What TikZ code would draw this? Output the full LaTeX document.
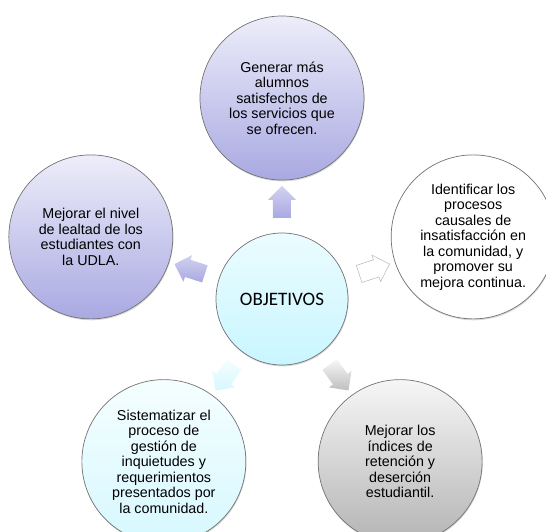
\documentclass[tikz,border=0pt]{standalone}
\usepackage{fontspec}
\setmainfont{Liberation Sans}
\newfontfamily\calibrifont{Carlito}
\usepackage{xcolor}
\usepackage{tikz}
\usetikzlibrary{calc,shadows}

\definecolor{lav}{HTML}{A9A9E2}
\definecolor{lavtop}{HTML}{EDEDFA}
\definecolor{aqua}{HTML}{C9F6FF}
\definecolor{aquatop}{HTML}{EBFCFF}
\definecolor{aqualight}{HTML}{D6F8FF}
\definecolor{aqualighttop}{HTML}{F5FEFF}
\definecolor{greybot}{HTML}{B4B4B4}
\definecolor{greytop}{HTML}{F6F6F6}

\tikzset{
  goal/.style={circle, draw=black!55, line width=0.7pt, minimum size=164pt,
    inner sep=0pt, align=center, font=\fontsize{14.3}{15.5}\selectfont,
    drop shadow={shadow xshift=0.6pt, shadow yshift=-1.4pt, opacity=0.3}},
  hub/.style={goal, minimum size=132pt, font=\calibrifont\fontsize{19}{22}\selectfont},
  pics/blockarrow/.style n args={3}{code={
    \path[top color=#1, bottom color=#2, draw=#3, line width=0.6pt, line join=round]
      (0,16) -- (14,2) -- (9,2) -- (9,-16) -- (-9,-16) -- (-9,2) -- (-14,2) -- cycle;
  }}
}

\begin{document}
\begin{tikzpicture}[x=1pt,y=1pt]
\clip (-282,-232) rectangle (264,299);

% Center
\node[hub, top color=aquatop, bottom color=aqua] (obj) at (0,0) {OBJETIVOS};

% Goals around the center
\node[goal, top color=lavtop, bottom color=lav] (g1) at (90:201)
  {Generar más\\alumnos\\satisfechos de\\los servicios que\\se ofrecen.};
\node[goal, fill=white] (g2) at (18:201)
  {Identificar los\\procesos\\causales de\\insatisfacción en\\la comunidad, y\\promover su\\mejora continua.};
\node[goal, top color=greytop, bottom color=greybot] (g3) at (306:201)
  {Mejorar los\\índices de\\retención y\\deserción\\estudiantil.};
\node[goal, top color=aqualighttop, bottom color=aqualight] (g4) at (234:201)
  {Sistematizar el\\proceso de\\gestión de\\inquietudes y\\requerimientos\\presentados por\\la comunidad.};
\node[goal, top color=lavtop, bottom color=lav] (g5) at (162:201)
  {Mejorar el nivel\\de lealtad de los\\estudiantes con\\la UDLA.};

% Block arrows from the center
\foreach \i/\ang/\ctop/\cbot/\edge in {1/90/lavtop!60!lav/lav/none, 2/18/white/white/black!25,
    3/306/greytop/greybot!85/none, 4/234/aqualighttop/aqualight/none,
    5/162/lavtop!60!lav/lav/none} {
  \pic[rotate=\ang-90] at ($(obj)!0.483!(g\i)$) {blockarrow={\ctop}{\cbot}{\edge}};
}
\end{tikzpicture}
\end{document}
